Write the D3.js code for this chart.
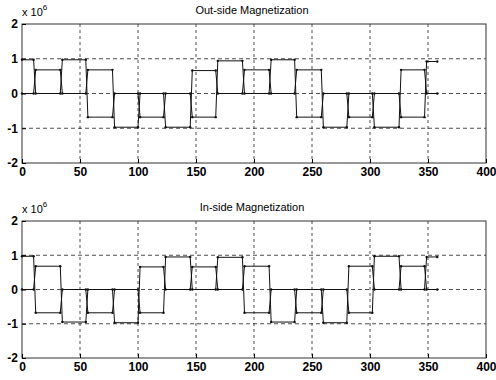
<!DOCTYPE html>
<html>
<head>
<meta charset="utf-8">
<script src="https://cdn.jsdelivr.net/npm/d3@7"></script>
<style>
  body { margin: 0; background: #fff; }
  svg { display: block; font-family: "Liberation Sans", Arial, sans-serif; }
</style>
</head>
<body>
<div id="chart"></div>
<script>
// segment boundaries along x (samples)
const boundaries = [0, 10, 33, 55, 78, 100, 122, 145, 167, 190, 213, 235, 258, 280, 302, 325, 347, 358];

// plateau levels (x 10^6) for each segment, upper and lower level per panel
const outUpper = [0.97, 0.68, 0.97, 0.68, 0, 0, 0, 0.66, 0.94, 0.68, 0.97, 0.68, 0, 0, 0, 0.68, 0.92];
const outLower = [0, 0, 0, -0.68, -0.97, -0.68, -0.97, -0.68, 0, 0, 0, -0.68, -0.97, -0.68, -0.97, -0.68, 0];
const inUpper = [0.97, 0.68, 0, 0, 0, 0.66, 0.95, 0.66, 0.94, 0.68, 0, 0, 0, 0.68, 0.97, 0.68, 0.95];
const inLower = [0, -0.68, -0.95, -0.68, -0.97, -0.68, 0, 0, 0, -0.68, -0.95, -0.68, -0.97, -0.68, 0, 0, 0];

const xTicks = [0, 50, 100, 150, 200, 250, 300, 350, 400];
const yTicks = [-2, -1, 0, 1, 2];

const panels = [
  { title: 'Out-side Magnetization', top: 24, bottom: 163, upper: outUpper, lower: outLower },
  { title: 'In-side Magnetization', top: 221, bottom: 358, upper: inUpper, lower: inLower }
];

const width = 496, height = 380;
const left = 22, right = 486;
const ramp = 1.8;

const svg = d3.select('#chart').append('svg')
  .attr('width', width)
  .attr('height', height);

// the two traces swap between upper and lower level at every boundary
function tracePoints(upper, lower, startUpper) {
  const pts = [];
  upper.forEach((u, i) => {
    const onUpper = (i % 2 === 0) === startUpper;
    const v = onUpper ? u : lower[i];
    const a = boundaries[i], b = boundaries[i + 1];
    pts.push([i === 0 ? a : a + ramp, v]);
    pts.push([b, v]);
  });
  return pts;
}

panels.forEach(p => {
  const x = d3.scaleLinear().domain([0, 400]).range([left, right]);
  const y = d3.scaleLinear().domain([-2, 2]).range([p.bottom, p.top]);

  const g = svg.append('g');

  // grid
  g.selectAll('.vgrid')
    .data(xTicks.slice(1, -1))
    .enter().append('line')
    .attr('x1', d => x(d)).attr('x2', d => x(d))
    .attr('y1', p.top).attr('y2', p.bottom)
    .attr('stroke', '#222').attr('stroke-width', 0.8)
    .attr('stroke-dasharray', '3,3');

  g.selectAll('.hgrid')
    .data(yTicks.slice(1, -1))
    .enter().append('line')
    .attr('x1', left).attr('x2', right)
    .attr('y1', d => y(d)).attr('y2', d => y(d))
    .attr('stroke', '#222').attr('stroke-width', 0.8)
    .attr('stroke-dasharray', '4,3');

  // axes frame
  g.append('rect')
    .attr('x', left).attr('y', p.top)
    .attr('width', right - left).attr('height', p.bottom - p.top)
    .attr('fill', 'none').attr('stroke', '#333').attr('stroke-width', 1);

  const fmt = d => String(d);

  const xAxis = d3.axisBottom(x).tickValues(xTicks).tickFormat(fmt).tickSize(-4).tickPadding(4);
  g.append('g')
    .attr('transform', `translate(0,${p.bottom})`)
    .call(xAxis)
    .call(s => s.select('.domain').remove())
    .call(s => s.selectAll('text').attr('font-size', 12).attr('fill', '#000').attr('font-weight', 'bold'));

  const yAxis = d3.axisLeft(y).tickValues(yTicks).tickFormat(fmt).tickSize(-4).tickPadding(4);
  g.append('g')
    .attr('transform', `translate(${left},0)`)
    .call(yAxis)
    .call(s => s.select('.domain').remove())
    .call(s => s.selectAll('text').attr('font-size', 12).attr('fill', '#000').attr('font-weight', 'bold'));

  // exponent label
  const ex = g.append('text')
    .attr('x', left).attr('y', p.top - 8)
    .attr('font-size', 11).attr('fill', '#000');
  ex.append('tspan').text('x 10');
  ex.append('tspan').attr('dy', -6).attr('font-size', 8).text('6');

  // title
  g.append('text')
    .attr('x', 252).attr('y', p.top - 10)
    .attr('text-anchor', 'middle')
    .attr('font-size', 11).attr('fill', '#000')
    .text(p.title);

  const line = d3.line().x(d => x(d[0])).y(d => y(d[1]));

  [true, false].forEach(startUpper => {
    const pts = tracePoints(p.upper, p.lower, startUpper);
    g.append('path')
      .datum(pts)
      .attr('d', line)
      .attr('fill', 'none')
      .attr('stroke', '#111')
      .attr('stroke-width', 1);

    g.selectAll(null)
      .data(pts)
      .enter().append('circle')
      .attr('cx', d => x(d[0])).attr('cy', d => y(d[1]))
      .attr('r', 1.2)
      .attr('fill', '#111');
  });
});
</script>
</body>
</html>
